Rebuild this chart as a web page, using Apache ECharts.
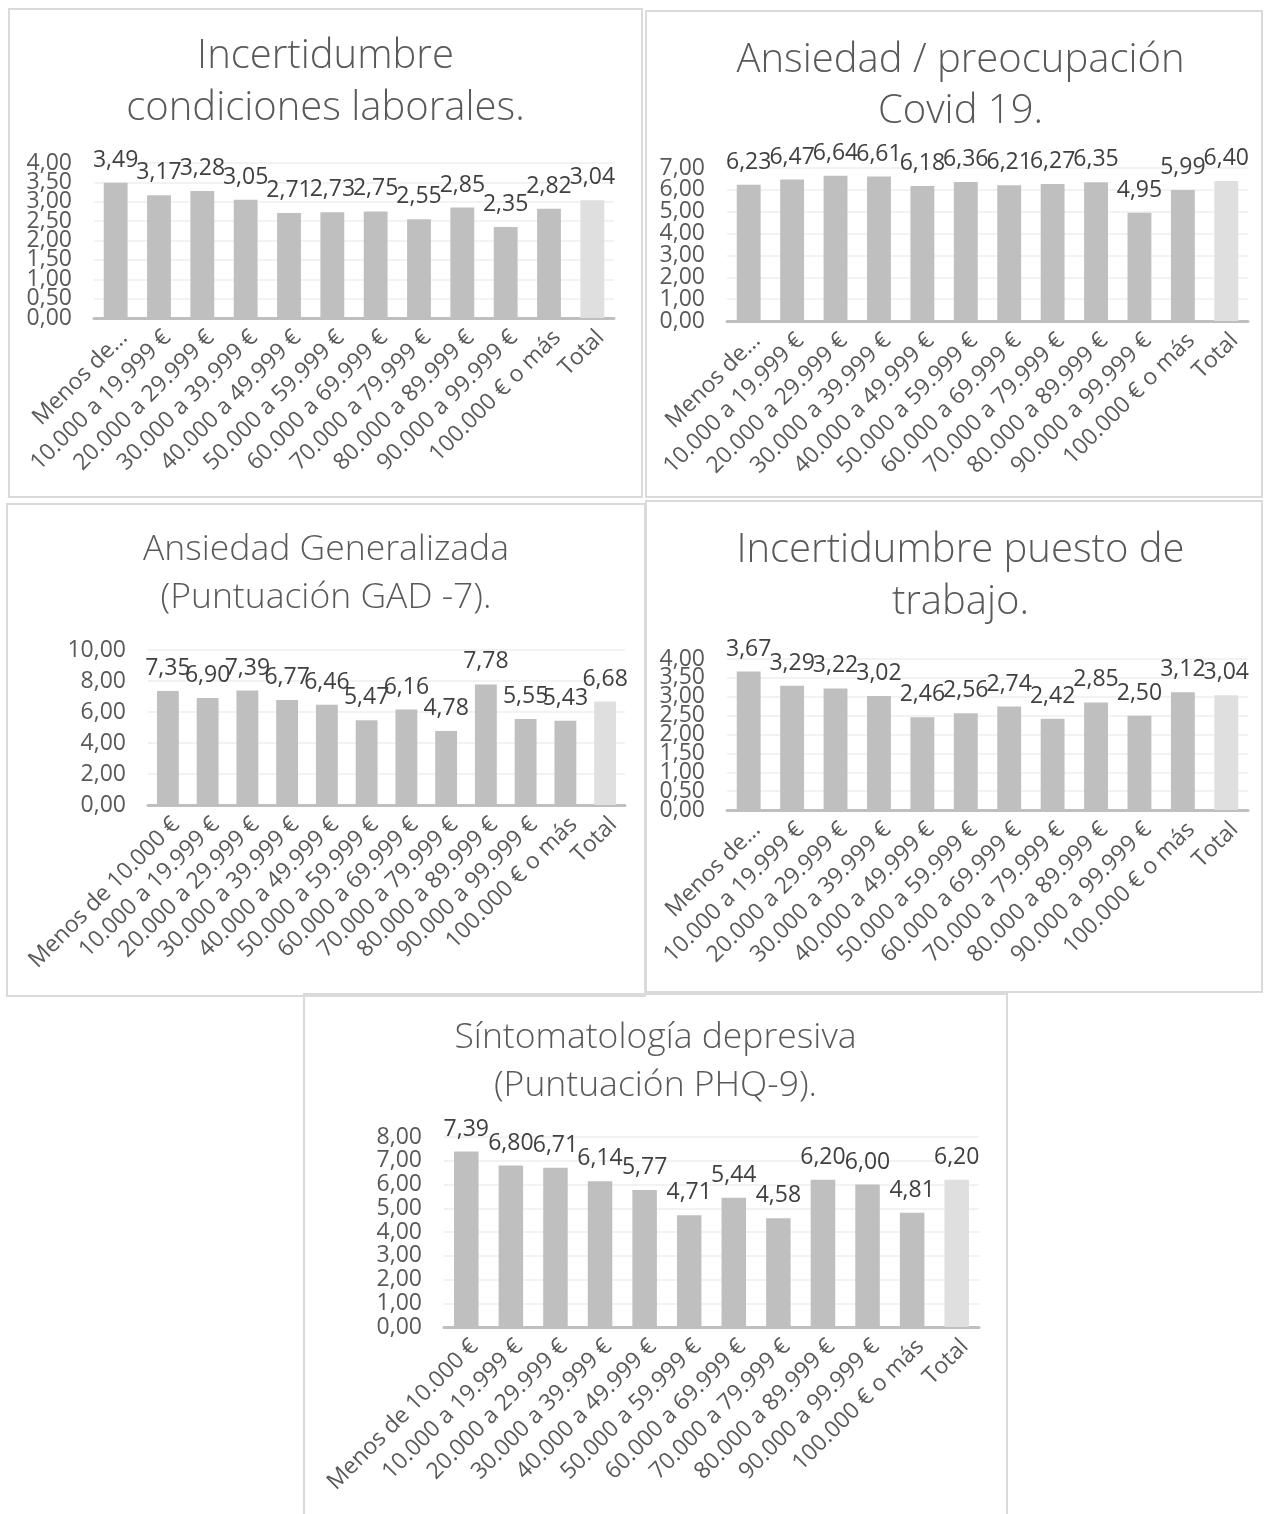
<!DOCTYPE html>
<html><head><meta charset="utf-8">
<script src="https://cdn.jsdelivr.net/npm/echarts@6/dist/echarts.min.js"></script>
<style>
html,body{margin:0;padding:0;background:#fff;}
body{width:1266px;height:1514px;position:relative;overflow:hidden;}
.chart{position:absolute;}
.frame{position:absolute;border:2px solid #dadada;box-sizing:border-box;pointer-events:none;}
</style></head><body>
<script>
// ---- data ----
const categories = ["Menos de 10.000 €","10.000 a 19.999 €","20.000 a 29.999 €","30.000 a 39.999 €","40.000 a 49.999 €","50.000 a 59.999 €","60.000 a 69.999 €","70.000 a 79.999 €","80.000 a 89.999 €","90.000 a 99.999 €","100.000 € o más","Total"];
const valuesCondLaborales = [3.49,3.17,3.28,3.05,2.71,2.73,2.75,2.55,2.85,2.35,2.82,3.04];
const valuesCovid = [6.23,6.47,6.64,6.61,6.18,6.36,6.21,6.27,6.35,4.95,5.99,6.40];
const valuesGAD7 = [7.35,6.90,7.39,6.77,6.46,5.47,6.16,4.78,7.78,5.55,5.43,6.68];
const valuesPuesto = [3.67,3.29,3.22,3.02,2.46,2.56,2.74,2.42,2.85,2.50,3.12,3.04];
const valuesPHQ9 = [7.39,6.80,6.71,6.14,5.77,4.71,5.44,4.58,6.20,6.00,4.81,6.20];
const titles = ["Incertidumbre\ncondiciones laborales.","Ansiedad / preocupación\nCovid 19.","Ansiedad Generalizada\n(Puntuación GAD -7).","Incertidumbre puesto de\ntrabajo.","Síntomatología depresiva\n(Puntuación PHQ-9)."];
const yMaxes = [4,7,10,4,8];
const ySteps = [0.5,1,2,0.5,1];

// ---- layout ----
const FONT = "'Open Sans', 'Noto Sans', sans-serif";
const LABEL_SIZE = 23;
const panels = [
  {values:valuesCondLaborales, title:titles[0], yMax:yMaxes[0], yStep:ySteps[0], shortFirst:true,
   box:[8,8,635,490], frame:[8,8,635,490], grid:[86,155,520,155], titleTop:18, titleSize:40, titleLH:52},
  {values:valuesCovid, title:titles[1], yMax:yMaxes[1], yStep:ySteps[1], shortFirst:true,
   box:[645,10,631,488], frame:[645,10,618,488], grid:[82,158,521,153], titleTop:20, titleSize:40, titleLH:51},
  {values:valuesGAD7, title:titles[2], yMax:yMaxes[2], yStep:ySteps[2], shortFirst:false,
   box:[6,503,640,494], frame:[6,503,640,494], grid:[142,147,477,155], titleTop:18, titleSize:35.5, titleLH:48},
  {values:valuesPuesto, title:titles[3], yMax:yMaxes[3], yStep:ySteps[3], shortFirst:true,
   box:[645,500,631,493], frame:[645,500,618,493], grid:[82,159,521,151], titleTop:20, titleSize:40, titleLH:52},
  {values:valuesPHQ9, title:titles[4], yMax:yMaxes[4], yStep:ySteps[4], shortFirst:false,
   box:[303,993,705,530], frame:[303,993,705,530], grid:[141,144,535,190], titleTop:16, titleSize:35.5, titleLH:48}
];

const fmt = v => Number(v).toFixed(2).replace('.', ',');

function yLabelStyle(extra){
  return Object.assign({margin:22, color:'#595959', fontFamily:FONT, fontSize:LABEL_SIZE, formatter:fmt}, extra);
}

function buildOption(p){
  return {
    animation:false,
    title:{text:p.title, left:'center', top:p.titleTop,
      textStyle:{fontFamily:FONT, fontWeight:300, fontSize:p.titleSize, lineHeight:p.titleLH, color:'#595959'}},
    grid:{left:p.grid[0], top:p.grid[1], width:p.grid[2], height:p.grid[3], containLabel:false, outerBoundsMode:'none'},
    xAxis:{type:'category', data:categories,
      axisTick:{show:false},
      axisLine:{lineStyle:{color:'#bfbfbf', width:3}},
      axisLabel:{interval:0, rotate:45, margin:8, align:'right', verticalAlign:'top',
        color:'#595959', fontFamily:FONT, fontSize:LABEL_SIZE,
        formatter:(v,i)=> (p.shortFirst && i===0) ? 'Menos de…' : v}},
    yAxis:[
      {type:'value', min:0, max:p.yMax, interval:p.yStep,
        axisLine:{show:false}, axisTick:{show:false},
        splitLine:{lineStyle:{color:'#eeeeee', width:1.5}},
        axisLabel:yLabelStyle({showMinLabel:false, showMaxLabel:false})},
      // end labels (0 and max) on a companion axis sharing the same scale
      {type:'value', position:'left', min:0, max:p.yMax, interval:p.yMax,
        axisLine:{show:false}, axisTick:{show:false}, splitLine:{show:false},
        axisLabel:yLabelStyle({showMinLabel:true, showMaxLabel:true})}
    ],
    series:[{type:'bar', barWidth:'55%', yAxisIndex:0,
      data:p.values.map((v,i)=>({value:v, itemStyle:{color: categories[i]==='Total' ? '#dfdfdf' : '#bfbfbf'}})),
      label:{show:true, position:'top', distance:11, color:'#404040', fontFamily:FONT, fontSize:LABEL_SIZE,
        formatter:d=>fmt(d.value)}}]
  };
}

panels.forEach(p=>{
  const d = document.createElement('div');
  d.className='chart';
  d.style.left=p.box[0]+'px'; d.style.top=p.box[1]+'px';
  d.style.width=p.box[2]+'px'; d.style.height=p.box[3]+'px';
  document.body.appendChild(d);
  const c = echarts.init(d, null, {renderer:'canvas'});
  c.setOption(buildOption(p));
});
panels.forEach(p=>{
  const f = document.createElement('div');
  f.className='frame';
  f.style.left=p.frame[0]+'px'; f.style.top=p.frame[1]+'px';
  f.style.width=p.frame[2]+'px'; f.style.height=p.frame[3]+'px';
  document.body.appendChild(f);
});
</script>
</body></html>
